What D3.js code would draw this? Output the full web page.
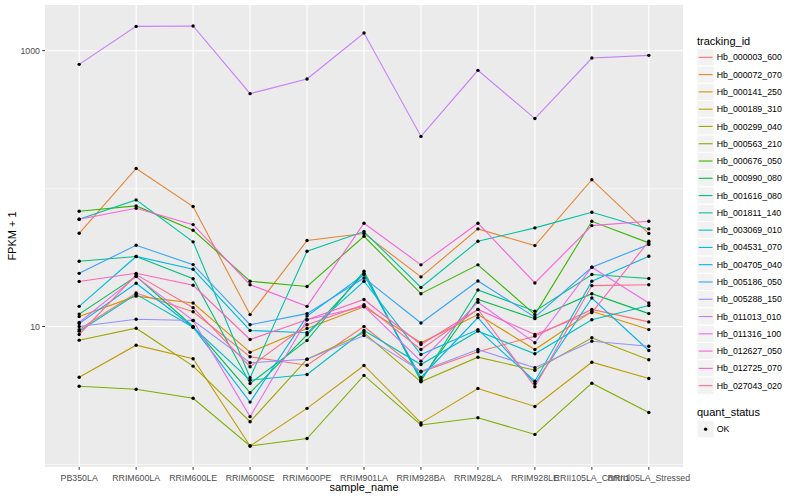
<!DOCTYPE html>
<html>
<head>
<meta charset="utf-8">
<script src="https://cdn.jsdelivr.net/npm/d3@7"></script>
<style>
body{margin:0;background:#fff;}
svg text{font-family:"Liberation Sans", Arial, Helvetica, sans-serif;}
</style>
</head>
<body>
<div class="plot"></div>
<script>
// sample names on the x axis
const samples = ["PB350LA","RRIM600LA","RRIM600LE","RRIM600SE","RRIM600PE","RRIM901LA",
  "RRIM928BA","RRIM928LA","RRIM928LE","RRII105LA_Control","RRII105LA_Stressed"]

const trackingIds = ["Hb_000003_600","Hb_000072_070","Hb_000141_250","Hb_000189_310","Hb_000299_040",
  "Hb_000563_210","Hb_000676_050","Hb_000990_080","Hb_001616_080","Hb_001811_140","Hb_003069_010",
  "Hb_004531_070","Hb_004705_040","Hb_005186_050","Hb_005288_150","Hb_011013_010","Hb_011316_100",
  "Hb_012627_050","Hb_012725_070","Hb_027043_020"]

// FPKM + 1, one array per gene, in sample order
const hb_000003_600 = [9.5, 17.5, 12.8, 6.03, 5.24, 10.0, 4.67, 6.56, 8.51, 13.3, 10.8]
const hb_000072_070 = [47.4, 140, 74.1, 12.2, 42.0, 47.2, 22.9, 51.0, 38.6, 116, 47.2]
const hb_000141_250 = [11.8, 16.6, 14.8, 6.51, 9.67, 13.9, 7.62, 12.2, 6.81, 12.9, 9.5]
const hb_000189_310 = [4.29, 7.32, 5.83, 1.36, 2.55, 5.22, 2.00, 3.55, 2.63, 5.51, 4.20]
const hb_000299_040 = [7.96, 9.72, 5.16, 2.04, 5.79, 9.0, 3.97, 5.99, 4.82, 8.28, 5.74]
const hb_000563_210 = [3.69, 3.51, 3.02, 1.36, 1.54, 4.42, 1.93, 2.18, 1.65, 3.88, 2.38]
const hb_000676_050 = [68.5, 74.9, 49.9, 21.3, 19.5, 45.1, 17.3, 28.0, 12.2, 57.9, 40.4]
const hb_000990_080 = [12.3, 23.1, 10.0, 3.31, 8.71, 24.2, 4.13, 15.7, 11.4, 17.3, 12.4]
const hb_001616_080 = [29.7, 32.2, 22.2, 3.86, 7.92, 25.2, 4.01, 18.4, 12.9, 23.8, 22.3]
const hb_001811_140 = [59.9, 82.8, 41.1, 4.25, 35.1, 48.8, 19.2, 41.5, 51.9, 67.3, 51.0]
const hb_003069_010 = [9.25, 17.1, 9.88, 4.08, 4.49, 9.36, 5.30, 9.25, 6.34, 11.2, 14.2]
const hb_004531_070 = [14.0, 32.2, 26.0, 9.36, 9.0, 21.3, 6.27, 9.5, 4.01, 21.3, 32.3]
const hb_004705_040 = [10.5, 20.6, 9.88, 2.83, 11.9, 23.8, 4.27, 11.6, 3.86, 16.1, 6.70]
const hb_005186_050 = [24.3, 38.8, 28.1, 10.3, 12.4, 22.5, 10.6, 21.4, 11.7, 26.9, 39.3]
const hb_005288_150 = [10.0, 11.3, 11.05, 5.46, 5.79, 8.6, 4.74, 6.81, 5.02, 7.82, 7.2]
const hb_011013_010 = [796, 1500, 1510, 488, 624, 1343, 239, 720, 322, 885, 925]
const hb_011316_100 = [10.7, 23.0, 11.05, 2.22, 11.2, 14.0, 5.61, 15.0, 7.62, 26.9, 14.8]
const hb_012627_050 = [59.9, 72.0, 54.8, 20.1, 14.0, 56.1, 28.0, 56.1, 20.7, 53.9, 57.9]
const hb_012725_070 = [21.2, 24.3, 19.9, 8.05, 11.2, 15.7, 7.41, 13.3, 8.75, 12.6, 41.5]
const hb_027043_020 = [8.75, 23.8, 13.7, 5.11, 10.3, 14.4, 6.81, 13.3, 3.66, 19.8, 20.1]

const seriesValues = [hb_000003_600, hb_000072_070, hb_000141_250, hb_000189_310, hb_000299_040,
  hb_000563_210, hb_000676_050, hb_000990_080, hb_001616_080, hb_001811_140, hb_003069_010,
  hb_004531_070, hb_004705_040, hb_005186_050, hb_005288_150, hb_011013_010, hb_011316_100,
  hb_012627_050, hb_012725_070, hb_027043_020]

const yTicks = [10, 1000]
const yMinor = [1, 100]
const quantStatus = ["OK"]

// ggplot hue palette for 20 groups
const palette = ["#F8766D","#EA8331","#D89000","#C09B00","#A3A500","#7CAE00","#39B600","#00BB4E",
  "#00BF7D","#00C1A3","#00BFC4","#00BAE0","#00B0F6","#35A2FF","#9590FF","#C77CFF","#E76BF3",
  "#FA62DB","#FF62BC","#FF6C91"]

let panel = {left: 45, right: 683, top: 5, bottom: 467}
let color = d3.scaleOrdinal().domain(trackingIds).range(palette)

let svg = d3.select(".plot").append("svg")
  .attr("width", 800)
  .attr("height", 500)

let data = trackingIds.map(function(id, i){
  return {id: id, values: samples.map(function(s, j){ return {x: s, y: seriesValues[i][j]} })}
})

let x = d3.scalePoint().domain(samples).range([panel.left, panel.right]).padding(0.6)

let all = d3.merge(seriesValues)
let lmin = Math.log10(d3.min(all)), lmax = Math.log10(d3.max(all))
let pad = (lmax - lmin) * 0.05
let y = d3.scaleLog()
  .domain([Math.pow(10, lmin - pad), Math.pow(10, lmax + pad)])
  .range([panel.bottom, panel.top])

// panel background + grid
svg.append("rect")
  .attr("x", panel.left).attr("y", panel.top)
  .attr("width", panel.right - panel.left).attr("height", panel.bottom - panel.top)
  .attr("fill", "#EBEBEB")

svg.selectAll(".minor").data(yMinor).enter().append("line")
  .attr("x1", panel.left).attr("x2", panel.right)
  .attr("y1", d => y(d)).attr("y2", d => y(d))
  .attr("stroke", "#fff").attr("stroke-width", 0.55)

svg.selectAll(".majorY").data(yTicks).enter().append("line")
  .attr("x1", panel.left).attr("x2", panel.right)
  .attr("y1", d => y(d)).attr("y2", d => y(d))
  .attr("stroke", "#fff").attr("stroke-width", 1.1)

svg.selectAll(".majorX").data(samples).enter().append("line")
  .attr("x1", d => x(d)).attr("x2", d => x(d))
  .attr("y1", panel.top).attr("y2", panel.bottom)
  .attr("stroke", "#fff").attr("stroke-width", 1.1)

// lines
let line = d3.line().x(d => x(d.x)).y(d => y(d.y))
svg.selectAll(".series").data(data).enter().append("path")
  .attr("class", "series")
  .attr("d", d => line(d.values))
  .attr("fill", "none")
  .attr("stroke", d => color(d.id))
  .attr("stroke-width", 1.1)

// points
let pts = svg.append("g")
data.forEach(function(s){
  pts.selectAll(null).data(s.values).enter().append("circle")
    .attr("cx", d => x(d.x)).attr("cy", d => y(d.y))
    .attr("r", 1.7).attr("fill", "#000")
})

// axes
svg.selectAll(".ytick").data(yTicks).enter().append("line")
  .attr("x1", panel.left - 2.75).attr("x2", panel.left)
  .attr("y1", d => y(d)).attr("y2", d => y(d))
  .attr("stroke", "#333").attr("stroke-width", 1)
svg.selectAll(".ylab").data(yTicks).enter().append("text")
  .attr("x", panel.left - 5).attr("y", d => y(d)).attr("dy", "0.35em")
  .attr("text-anchor", "end").attr("font-size", 8.8).attr("fill", "#4D4D4D")
  .text(d => d)

svg.selectAll(".xtick").data(samples).enter().append("line")
  .attr("x1", d => x(d)).attr("x2", d => x(d))
  .attr("y1", panel.bottom).attr("y2", panel.bottom + 2.75)
  .attr("stroke", "#333").attr("stroke-width", 1)
svg.selectAll(".xlab").data(samples).enter().append("text")
  .attr("x", d => x(d)).attr("y", panel.bottom + 13.5)
  .attr("text-anchor", "middle").attr("font-size", 8.8).attr("fill", "#4D4D4D")
  .text(d => d)

svg.append("text")
  .attr("x", (panel.left + panel.right) / 2).attr("y", 491)
  .attr("text-anchor", "middle").attr("font-size", 11).attr("fill", "#000")
  .text("sample_name")
svg.append("text")
  .attr("transform", "translate(16," + ((panel.top + panel.bottom) / 2) + ") rotate(-90)")
  .attr("text-anchor", "middle").attr("font-size", 11).attr("fill", "#000")
  .text("FPKM + 1")

// legend
let lx = 697, keySize = 17.28
svg.append("text").attr("x", lx).attr("y", 44.5).attr("font-size", 11).text("tracking_id")
let legend = svg.selectAll(".legend").data(trackingIds).enter().append("g")
  .attr("transform", (d, i) => "translate(" + lx + "," + (48.7 + i * keySize) + ")")
legend.append("rect")
  .attr("width", keySize).attr("height", keySize)
  .attr("fill", "#F2F2F2").attr("stroke", "#fff").attr("stroke-width", 1)
legend.append("line")
  .attr("x1", 1.7).attr("x2", keySize - 1.7)
  .attr("y1", keySize / 2).attr("y2", keySize / 2)
  .attr("stroke", d => color(d)).attr("stroke-width", 1.1)
legend.append("text")
  .attr("x", keySize + 2.5).attr("y", keySize / 2).attr("dy", "0.35em")
  .attr("font-size", 8.8).text(d => d)

svg.append("text").attr("x", lx).attr("y", 416).attr("font-size", 11).text("quant_status")
let legend2 = svg.selectAll(".legend2").data(quantStatus).enter().append("g")
  .attr("transform", "translate(" + lx + "," + 420.5 + ")")
legend2.append("rect")
  .attr("width", keySize).attr("height", keySize)
  .attr("fill", "#F2F2F2").attr("stroke", "#fff").attr("stroke-width", 1)
legend2.append("circle")
  .attr("cx", keySize / 2).attr("cy", keySize / 2).attr("r", 1.7).attr("fill", "#000")
legend2.append("text")
  .attr("x", keySize + 2.5).attr("y", keySize / 2).attr("dy", "0.35em")
  .attr("font-size", 8.8).text(d => d)
</script>
</body>
</html>
